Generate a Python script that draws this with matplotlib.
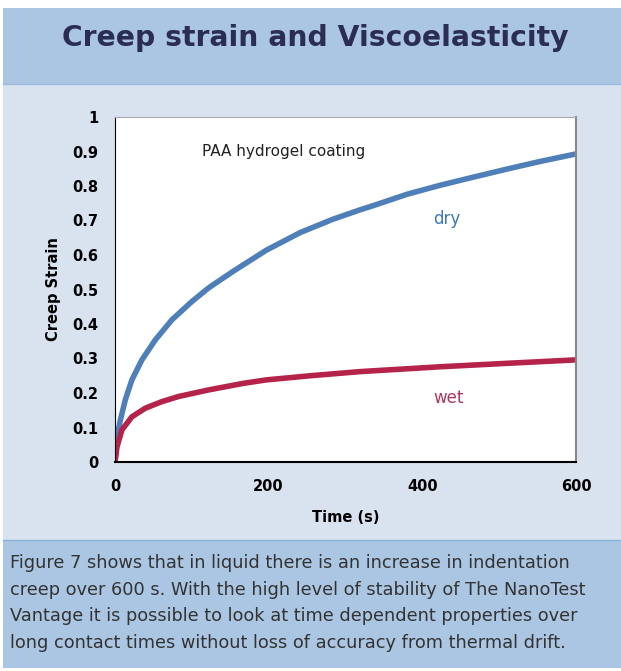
import matplotlib
matplotlib.use("Agg")
import matplotlib.pyplot as plt
from matplotlib.patches import Rectangle

# values
t_dry = [0, 2.6, 7, 13.4, 22, 35, 52.5, 74, 100, 122, 154, 197, 241, 284, 319, 336, 380, 423, 467, 510, 553, 600]
dry = [0, 0.073, 0.122, 0.18, 0.238, 0.296, 0.354, 0.412, 0.465, 0.505, 0.553, 0.614, 0.665, 0.704,
       0.731, 0.743, 0.776, 0.802, 0.826, 0.849, 0.871, 0.893]
t_wet = [0, 2.6, 9, 22, 39.5, 61, 83, 122, 167, 197, 254, 319, 423, 510, 600]
wet = [0, 0.044, 0.093, 0.131, 0.156, 0.175, 0.19, 0.209, 0.228, 0.238, 0.25, 0.262, 0.276, 0.286, 0.296]

title = "Creep strain and Viscoelasticity"
caption = ("Figure 7 shows that in liquid there is an increase in indentation\n"
           "creep over 600 s. With the high level of stability of The NanoTest\n"
           "Vantage it is possible to look at time dependent properties over\n"
           "long contact times without loss of accuracy from thermal drift.")

W, H = 621, 671
plt.rcParams['font.family'] = ['DejaVu Sans']
fig = plt.figure(figsize=(W / 100, H / 100), dpi=100)

def box(x0, y0, x1, y1, color):
    # pixel coords from top-left
    fig.patches.append(Rectangle((x0 / W, 1 - y1 / H), (x1 - x0) / W, (y1 - y0) / H,
                                 transform=fig.transFigure, facecolor=color,
                                 edgecolor="none", zorder=-5))

box(3, 8, W, 84, "#abc6e2")
box(3, 84, W, 540, "#d8e3ef")
box(3, 540, W, 668, "#abc6e2")
fig.add_artist(plt.Line2D([3 / W, 1], [1 - 84 / H] * 2, color="#9dbbe0", lw=1, zorder=-4))
fig.add_artist(plt.Line2D([3 / W, 1], [1 - 540 / H] * 2, color="#8fb0d8", lw=1, zorder=-4))

fig.text(0.507, 1 - 38 / H, title, ha="center", va="center", fontsize=20.3,
         fontweight="bold", color="#2b2d55")
fig.text(10 / W, 1 - 603 / H, caption, ha="left", va="center", fontsize=12.8,
         color="#333333", linespacing=1.6)

ax = fig.add_axes([115 / W, 1 - 462 / H, 461 / W, 345 / H])
ax.plot(t_dry, dry, color="#4f7fb8", lw=4, solid_capstyle="round", solid_joinstyle="round")
ax.plot(t_wet, wet, color="#b5234a", lw=4, solid_capstyle="round", solid_joinstyle="round")
ax.set_xlim(0, 600)
ax.set_ylim(0, 1)
ax.set_xticks([0, 200, 400, 600])
ax.set_yticks([0, 0.1, 0.2, 0.3, 0.4, 0.5, 0.6, 0.7, 0.8, 0.9, 1])
ax.set_yticklabels(["0", "0.1", "0.2", "0.3", "0.4", "0.5", "0.6", "0.7", "0.8", "0.9", "1"])
ax.tick_params(length=0, labelsize=10.5, pad=12)
for lab in ax.get_xticklabels() + ax.get_yticklabels():
    lab.set_fontweight("bold")
ax.set_xlabel("Time (s)", fontsize=10.5, fontweight="bold", labelpad=12)
ax.set_ylabel("Creep Strain", fontsize=10.5, fontweight="bold", labelpad=8)
ax.spines["left"].set_color("black")
ax.spines["bottom"].set_color("black")
ax.spines["bottom"].set_linewidth(1.5)
ax.spines["right"].set_color("#888888")
ax.spines["right"].set_linewidth(1.5)
ax.spines["top"].set_color("#aaaaaa")

ax.text(113, 0.9, "PAA hydrogel coating", fontsize=11, color="#222222", va="center")
ax.text(414, 0.705, "dry", fontsize=12, color="#3b78bd", va="center")
ax.text(414, 0.185, "wet", fontsize=12, color="#b3345a", va="center")

fig.savefig("out.png", dpi=100)
